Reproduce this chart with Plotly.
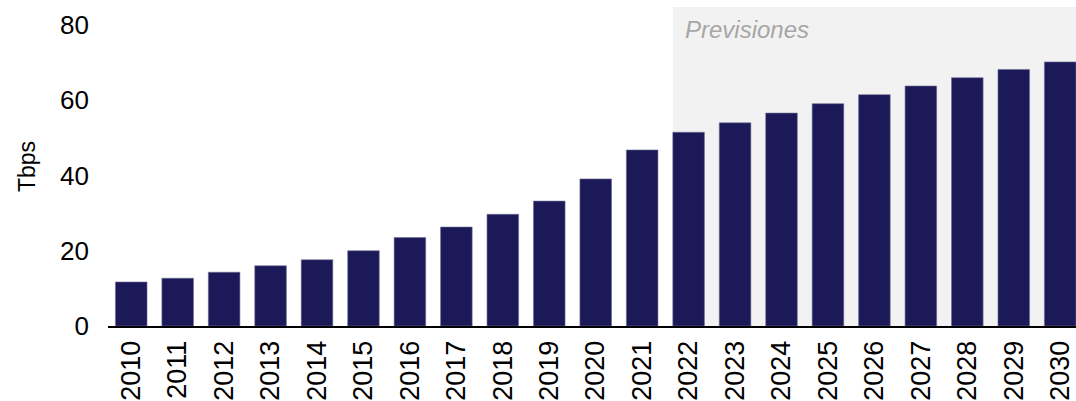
import plotly.graph_objects as go

# Annual traffic, Tbps (2022 onwards are forecasts)
years = list(range(2010, 2031))
tbps = [11.7, 12.7, 14.3, 16.0, 17.6, 20.0, 23.5, 26.3, 29.7, 33.2, 39.1,
        46.8, 51.5, 54.0, 56.6, 59.1, 61.5, 63.8, 66.0, 68.2, 70.2]
forecast_start = 2022
y_ticks = [0, 20, 40, 60, 80]

bar_width = 0.68
bar_color = "#1B1958"
font_family = "Liberation Sans, Arial, sans-serif"

fig = go.Figure()
fig.add_trace(go.Bar(
    x=years,
    y=tbps,
    width=bar_width,
    marker=dict(color=bar_color, line=dict(color="#6E6C96", width=0.6)),
    hoverinfo="x+y",
))

# Shaded forecast band
fig.add_shape(
    type="rect", xref="x", yref="paper",
    x0=forecast_start - bar_width / 2, x1=years[-1] + 0.5,
    y0=0, y1=1,
    fillcolor="#F2F2F2", line=dict(width=0), layer="below",
)
fig.add_annotation(
    x=forecast_start - bar_width / 2, xref="x", xanchor="left", xshift=10,
    y=1, yref="paper", yanchor="top", yshift=-7,
    text="<i>Previsiones</i>", showarrow=False,
    font=dict(family=font_family, size=24, color="#A6A6A6"),
)

fig.update_layout(
    width=1076, height=401,
    margin=dict(l=108, r=0, t=7, b=75),
    paper_bgcolor="white", plot_bgcolor="white",
    showlegend=False,
    font=dict(family=font_family, size=24, color="black"),
    xaxis=dict(
        range=[2009.5, 2030.34],
        tickmode="array", tickvals=years, ticktext=[str(y) for y in years],
        tickangle=-90, showgrid=False, zeroline=False,
        showline=True, linecolor="black", linewidth=2,
        ticks="", ticklabelstandoff=2,
        tickfont=dict(size=27),
    ),
    yaxis=dict(
        range=[0, 84.8],
        tickmode="array", tickvals=y_ticks,
        showgrid=False, zeroline=False, showline=False,
        ticks="", ticklabelstandoff=18,
        tickfont=dict(size=26),
        title=dict(text="Tbps", font=dict(size=23), standoff=18),
    ),
)

fig.write_html("out.html")
